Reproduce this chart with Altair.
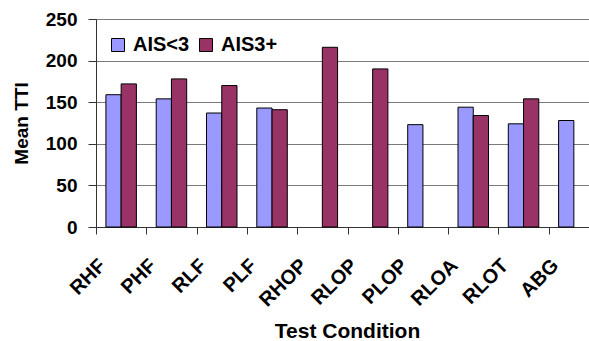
import altair as alt
import pandas as pd

# Mean TTI per test condition, split by injury severity group
conditions = ["RHF", "PHF", "RLF", "PLF", "RHOP", "RLOP", "PLOP", "RLOA", "RLOT", "ABG"]
ais_low = [159, 154, 137, 143, None, None, 123, 144, 124, 128]
ais_high = [172, 178, 170, 141, 216, 190, None, 134, 154, None]
series_names = ["AIS<3", "AIS3+"]
series_colors = ["#9999FF", "#993366"]

rows = []
for cond, lo, hi in zip(conditions, ais_low, ais_high):
    if lo is not None:
        rows.append({"Condition": cond, "Series": series_names[0], "TTI": lo})
    if hi is not None:
        rows.append({"Condition": cond, "Series": series_names[1], "TTI": hi})
df = pd.DataFrame(rows)

FONT = "Liberation Sans"

bars = alt.Chart(df).mark_bar(stroke="black", strokeWidth=1).encode(
    x=alt.X(
        "Condition:N",
        sort=conditions,
        scale=alt.Scale(domain=conditions, paddingInner=0, paddingOuter=0, range=[0, 503]),
        axis=alt.Axis(
            title="Test Condition",
            labelAngle=-45,
            labelOffset=-26,
            labelPadding=21,
            tickBand="extent",
            tickSize=7,
            tickColor="#333333",
            domainColor="#333333",
            labelFont=FONT,
            labelFontSize=20,
            labelFontWeight="bold",
            labelColor="black",
            titleFont=FONT,
            titleFontSize=21,
            titleFontWeight="bold",
            titleColor="black",
            titleX=251,
            titleY=110,
            titleBaseline="alphabetic",
            grid=False,
        ),
    ),
    xOffset=alt.XOffset(
        "Series:N",
        scale=alt.Scale(domain=series_names, paddingInner=0, paddingOuter=0.65),
    ),
    y=alt.Y(
        "TTI:Q",
        scale=alt.Scale(domain=[0, 250], nice=False),
        axis=alt.Axis(
            title="Mean TTI",
            values=[0, 50, 100, 150, 200, 250],
            tickSize=8,
            tickColor="#333333",
            domainColor="#333333",
            gridColor="#7a7a7a",
            gridWidth=1,
            labelFont=FONT,
            labelFontSize=19,
            labelFontWeight="bold",
            labelColor="black",
            labelPadding=11,
            titleFont=FONT,
            titleFontSize=19,
            titleFontWeight="bold",
            titleColor="black",
            titlePadding=14,
        ),
    ),
    color=alt.Color(
        "Series:N",
        scale=alt.Scale(domain=series_names, range=series_colors),
        legend=alt.Legend(
            title=None,
            orient="none",
            legendX=12,
            legendY=16,
            direction="horizontal",
            symbolType="square",
            symbolSize=169,
            symbolStrokeColor="black",
            symbolStrokeWidth=1,
            symbolOpacity=1,
            labelFont=FONT,
            labelFontSize=20,
            labelFontWeight="bold",
            labelColor="black",
            labelOffset=5,
            columnPadding=6,
            padding=0,
        ),
    ),
)

chart = (
    bars.properties(
        width=493,
        height=208,
        autosize=alt.AutoSizeParams(type="none"),
        padding={"left": 96, "top": 19, "right": 0, "bottom": 114},
    )
    .configure_view(stroke=None)
    .configure_axisX(labelAngle=-45)
    .configure(background="white")
)

chart.save("out.html", embed_options={"renderer": "svg", "actions": False})
